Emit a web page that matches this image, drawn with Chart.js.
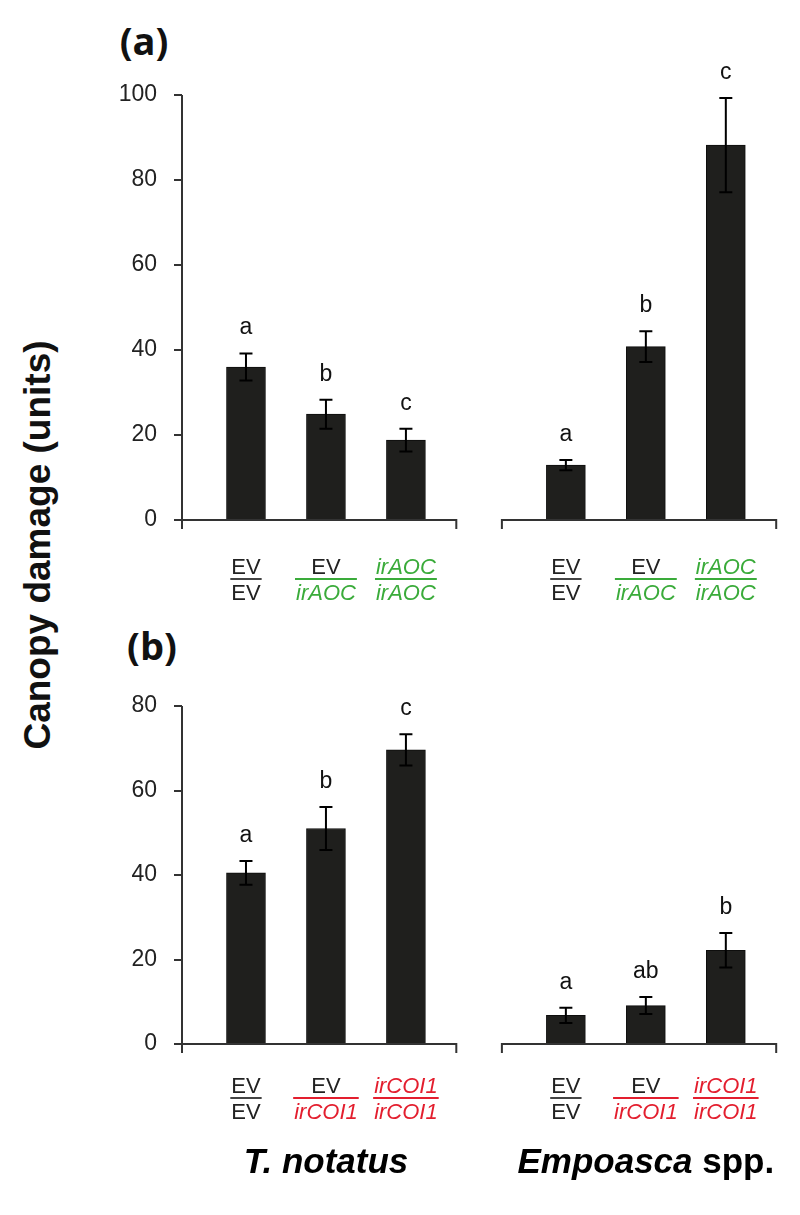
<!DOCTYPE html>
<html>
<head>
<meta charset="utf-8">
<script src="https://cdn.jsdelivr.net/npm/chart.js@4.4.1/dist/chart.umd.min.js"></script>
<style>
html,body{margin:0;padding:0;background:#fff;}
body{width:800px;height:1215px;overflow:hidden;position:relative;font-family:'Liberation Sans',Arial,sans-serif;}
canvas{position:absolute;left:0;}
#ca{top:0;}
#cb{top:610px;}
.lbl{position:absolute;transform:translate(-50%,-50%);white-space:nowrap;color:#111;}
.panel{font-family:'Open Sans',sans-serif;font-weight:700;font-size:38px;}
#ytitle{left:38px;top:545px;transform:translate(-50%,-50%) rotate(-90deg);font-weight:700;font-size:37px;font-family:'Liberation Sans',Arial,sans-serif;}
</style>
</head>
<body>
<div class="lbl panel" style="left:144px;top:40px;">(a)</div>
<div class="lbl panel" style="left:152px;top:645px;">(b)</div>
<div class="lbl" id="ytitle">Canopy damage (units)</div>
<canvas id="ca" width="800" height="610"></canvas>
<canvas id="cb" width="800" height="605"></canvas>
<script>
// ---- data ----
const yTicksA = [0, 20, 40, 60, 80, 100];
const yTicksB = [0, 20, 40, 60, 80];

const numeratorsA   = ['EV', 'EV', 'irAOC'];
const denominatorsA = ['EV', 'irAOC', 'irAOC'];
const numeratorsB   = ['EV', 'EV', 'irCOI1'];
const denominatorsB = ['EV', 'irCOI1', 'irCOI1'];

const speciesItalic = ['T. notatus', 'Empoasca'];
const speciesSuffix = ['', ' spp.'];

const tNotatusA    = [36.0, 24.9, 18.8];
const tNotatusAErr = [3.2, 3.4, 2.7];
const empoascaA    = [12.9, 40.8, 88.2];
const empoascaAErr = [1.2, 3.6, 11.1];

const tNotatusB    = [40.5, 51.0, 69.6];
const tNotatusBErr = [2.8, 5.1, 3.7];
const empoascaB    = [6.8, 9.1, 22.2];
const empoascaBErr = [1.8, 2.0, 4.1];

const lettersTA = ['a', 'b', 'c'];
const lettersEA = ['a', 'b', 'c'];
const lettersTB = ['a', 'b', 'c'];
const lettersEB = ['a', 'ab', 'b'];

// ---- drawing ----
const FONT = "'Liberation Sans', Arial, sans-serif";
const BAR = '#1f1f1d';
const AXIS = '#333333';

const figPlugin = {
  id: 'fig',
  afterDatasetsDraw(chart) {
    const ctx = chart.ctx, yS = chart.scales.y;
    ctx.save();
    chart.data.datasets.forEach((ds, di) => {
      const meta = chart.getDatasetMeta(di);
      meta.data.forEach((bar, i) => {
        const v = ds.data[i].y, e = ds.errors[i];
        const yt = yS.getPixelForValue(v + e), yb = yS.getPixelForValue(v - e);
        ctx.strokeStyle = '#000'; ctx.lineWidth = 2;
        ctx.beginPath();
        ctx.moveTo(bar.x, yt); ctx.lineTo(bar.x, yb);
        ctx.moveTo(bar.x - 6.5, yt); ctx.lineTo(bar.x + 6.5, yt);
        ctx.moveTo(bar.x - 6.5, yb); ctx.lineTo(bar.x + 6.5, yb);
        ctx.stroke();
        ctx.fillStyle = '#111';
        ctx.font = '23px ' + FONT;
        ctx.textAlign = 'center'; ctx.textBaseline = 'alphabetic';
        ctx.fillText(ds.letters[i], bar.x, yt - 19);
      });
    });
    ctx.restore();
  },
  afterDraw(chart) {
    const o = chart.options.plugins.fig;
    const ctx = chart.ctx, xS = chart.scales.x, yS = chart.scales.y;
    const y0 = yS.getPixelForValue(0), yTop = yS.getPixelForValue(yS.max);
    ctx.save();
    ctx.strokeStyle = AXIS; ctx.lineWidth = 2; ctx.lineCap = 'butt';
    // y axis (extends a little below 0)
    ctx.beginPath();
    ctx.moveTo(chart.chartArea.left, yTop); ctx.lineTo(chart.chartArea.left, y0 + 9);
    ctx.stroke();
    // x axis segments, one per species group
    o.groups.forEach((g, gi) => {
      const a = xS.getPixelForValue(g[0] - 0.8), b = xS.getPixelForValue(g[g.length - 1] + 0.63);
      ctx.beginPath();
      if (gi === 0) { ctx.moveTo(chart.chartArea.left, y0); }
      else { ctx.moveTo(a, y0 + 9); ctx.lineTo(a, y0); }
      ctx.lineTo(b, y0); ctx.lineTo(b, y0 + 9);
      ctx.stroke();
    });
    // category labels (fractions)
    o.groups.forEach(g => {
      g.forEach((slot, i) => {
        const x = xS.getPixelForValue(slot);
        const num = o.num[i], den = o.den[i];
        const fontOf = t => (t.startsWith('ir') ? 'italic ' : '') + '22px ' + FONT;
        const colOf = t => t.startsWith('ir') ? o.accent : '#222';
        const yN = y0 + o.labelOff;
        ctx.textAlign = 'center'; ctx.textBaseline = 'alphabetic';
        ctx.font = fontOf(num); const wN = ctx.measureText(num).width;
        ctx.fillStyle = colOf(num); ctx.fillText(num, x, yN);
        ctx.font = fontOf(den); const wD = ctx.measureText(den).width;
        ctx.fillStyle = colOf(den); ctx.fillText(den, x, yN + 26);
        const w = Math.max(wN, wD) + 2;
        ctx.strokeStyle = den.startsWith('ir') ? o.accent : '#444';
        ctx.lineWidth = 2;
        ctx.beginPath(); ctx.moveTo(x - w / 2, yN + 5); ctx.lineTo(x + w / 2, yN + 5); ctx.stroke();
      });
    });
    // species names
    if (o.species) {
      o.groups.forEach((g, gi) => {
        const x = xS.getPixelForValue(g[1]);
        const it = speciesItalic[gi], suf = speciesSuffix[gi];
        ctx.font = 'italic bold 35px ' + FONT; const w1 = ctx.measureText(it).width;
        ctx.font = 'bold 35px ' + FONT; const w2 = ctx.measureText(suf).width;
        let sx = x - (w1 + w2) / 2;
        ctx.fillStyle = '#000'; ctx.textAlign = 'left'; ctx.textBaseline = 'alphabetic';
        ctx.font = 'italic bold 35px ' + FONT; ctx.fillText(it, sx, o.speciesY);
        ctx.font = 'bold 35px ' + FONT; ctx.fillText(suf, sx + w1, o.speciesY);
      });
    }
    ctx.restore();
  }
};

function makeChart(id, cfg) {
  const slotsT = cfg.t.map((_, i) => i + 1);
  const slotsE = cfg.e.map((_, i) => i + cfg.t.length + 2);
  const mk = (vals, slots, errs, letters) => ({
    data: vals.map((v, i) => ({ x: slots[i], y: v })),
    errors: errs, letters: letters,
    backgroundColor: BAR, borderColor: '#0e0e0d', borderWidth: 1,
    barThickness: 39, grouped: false
  });
  const ticks = cfg.ticks;
  return new Chart(document.getElementById(id), {
    type: 'bar',
    data: { datasets: [mk(cfg.t, slotsT, cfg.tErr, cfg.tL), mk(cfg.e, slotsE, cfg.eErr, cfg.eL)] },
    options: {
      responsive: false, animation: false, events: [],
      layout: { padding: { left: 0, right: 23, top: cfg.padTop, bottom: cfg.padBottom } },
      plugins: {
        legend: { display: false }, tooltip: { enabled: false },
        fig: { groups: [slotsT, slotsE], num: cfg.num, den: cfg.den, accent: cfg.accent,
               labelOff: cfg.labelOff, species: cfg.species, speciesY: cfg.speciesY }
      },
      scales: {
        x: { type: 'linear', offset: false, grid: { offset: false },
             min: slotsT[0] - 0.8, max: slotsE[slotsE.length - 1] + 0.64, display: false },
        y: {
          min: ticks[0], max: ticks[ticks.length - 1],
          ticks: { stepSize: ticks[1] - ticks[0], font: { family: FONT, size: 23 }, color: '#222', padding: 17 },
          grid: { drawOnChartArea: false, drawTicks: true, tickLength: 8, color: AXIS, lineWidth: 2 },
          border: { display: false },
          afterFit: s => { s.width = 182; }
        }
      }
    },
    plugins: [figPlugin]
  });
}

makeChart('ca', {
  t: tNotatusA, tErr: tNotatusAErr, tL: lettersTA,
  e: empoascaA, eErr: empoascaAErr, eL: lettersEA,
  ticks: yTicksA, num: numeratorsA, den: denominatorsA, accent: '#3aab3a',
  padTop: 95, padBottom: 90, labelOff: 54, species: false
});
makeChart('cb', {
  t: tNotatusB, tErr: tNotatusBErr, tL: lettersTB,
  e: empoascaB, eErr: empoascaBErr, eL: lettersEB,
  ticks: yTicksB, num: numeratorsB, den: denominatorsB, accent: '#e31e2e',
  padTop: 96, padBottom: 171, labelOff: 49, species: true, speciesY: 563
});
</script>
</body>
</html>
